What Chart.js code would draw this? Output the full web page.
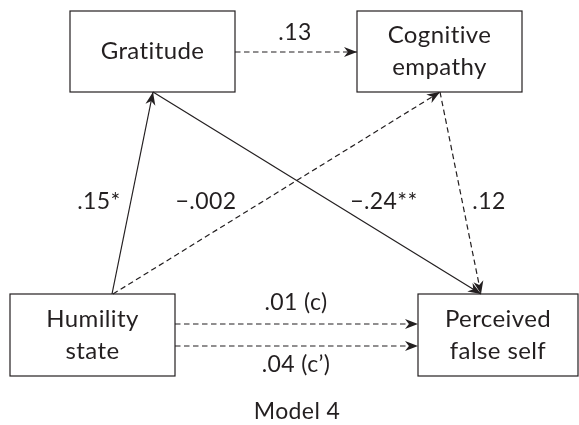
<!DOCTYPE html>
<html lang="en">
<head>
<meta charset="UTF-8">
<title>Model 4</title>
<script src="https://cdn.jsdelivr.net/npm/chart.js"></script>
<style>
  html, body { margin: 0; padding: 0; background: #fff; }
  #wrap { width: 579px; height: 425px; }
</style>
</head>
<body>
<div id="wrap"><canvas id="pathChart" width="579" height="425"></canvas></div>
<script>
// variables in the model
const nodeNames = ['Gratitude', 'Cognitive\nempathy', 'Humility\nstate', 'Perceived\nfalse self'];

// paths: from node, to node, coefficient label
const pathFrom = [2, 2, 0, 1, 0, 2, 2];
const pathTo   = [0, 1, 3, 3, 1, 3, 3];
const pathCoef = ['.15*', '\u2212.002', '\u2212.24**', '.12', '.13', '.01 (c)', '.04 (c\u2019)'];
const modelTitle = 'Model 4';

// layout (chart units = pixels of the 579x425 area)
const boxes = [
  { l: 70, t: 11, r: 235, b: 92 },
  { l: 357, t: 11, r: 522, b: 92 },
  { l: 10, t: 294, r: 175, b: 376 },
  { l: 418, t: 294, r: 578, b: 376 }
];
// anchor points per path [start, end]
const anchors = [
  [[112, 294], [153, 92]],
  [[113, 294], [440, 92]],
  [[153, 92], [481, 294]],
  [[440, 92], [481, 294]],
  [[235, 52], [357, 52]],
  [[175, 324], [418, 324]],
  [[175, 346], [418, 346]]
];
const coefPos = [[99, 202], [206, 202], [384, 202], [489, 202], [295, 33], [296, 303], [296, 365]];
const titlePos = [297, 412];

const ink = '#231f20';
const FONT = '"Lato", "Open Sans", sans-serif';

const datasets = pathCoef.map((c, i) => ({
  label: c,
  data: anchors[i].map(p => ({ x: p[0], y: p[1] })),
  showLine: true,
  borderColor: ink,
  borderWidth: 1.2,
  borderDash: c.includes('*') ? [] : [5.5, 3.5],
  pointRadius: 0,
  fill: false
}));

const diagramPlugin = {
  id: 'diagram',
  afterDatasetsDraw(chart) {
    const ctx = chart.ctx;
    const xs = chart.scales.x, ys = chart.scales.y;
    const px = v => xs.getPixelForValue(v);
    const py = v => ys.getPixelForValue(v);
    ctx.save();

    // arrowheads
    chart.data.datasets.forEach(ds => {
      const a = ds.data[0], b = ds.data[1];
      const x1 = px(a.x), y1 = py(a.y), x2 = px(b.x), y2 = py(b.y);
      const ang = Math.atan2(y2 - y1, x2 - x1);
      const len = 13, half = 5;
      ctx.save();
      ctx.translate(x2, y2);
      ctx.rotate(ang);
      ctx.beginPath();
      ctx.moveTo(0, 0);
      ctx.lineTo(-len, -half);
      ctx.lineTo(-len * 0.7, 0);
      ctx.lineTo(-len, half);
      ctx.closePath();
      ctx.fillStyle = ink;
      ctx.fill();
      ctx.restore();
    });

    // boxes and variable names
    ctx.strokeStyle = ink;
    ctx.lineWidth = 1.2;
    ctx.fillStyle = ink;
    ctx.textAlign = 'center';
    ctx.textBaseline = 'middle';
    ctx.letterSpacing = '0.4px'; // also keeps Lato from using its "ti" ligature
    ctx.font = '24px ' + FONT;
    boxes.forEach((bx, i) => {
      const l = px(bx.l), t = py(bx.t), r = px(bx.r), b = py(bx.b);
      ctx.strokeRect(l, t, r - l, b - t);
      const lines = nodeNames[i].split('\n');
      const cx = (l + r) / 2, cy = (t + b) / 2;
      const lh = 32;
      lines.forEach((ln, k) => {
        ctx.fillText(ln, cx, cy + (k - (lines.length - 1) / 2) * lh);
      });
    });

    // coefficients
    ctx.font = '23px ' + FONT;
    pathCoef.forEach((c, i) => {
      ctx.fillText(c, px(coefPos[i][0]), py(coefPos[i][1]));
    });
    ctx.fillText(modelTitle, px(titlePos[0]), py(titlePos[1]));
    ctx.restore();
  }
};

new Chart(document.getElementById('pathChart'), {
  type: 'scatter',
  data: { datasets },
  options: {
    responsive: false,
    animation: false,
    layout: { padding: 0 },
    plugins: { legend: { display: false }, tooltip: { enabled: false } },
    scales: {
      x: { type: 'linear', min: 0, max: 579, display: false },
      y: { type: 'linear', min: 0, max: 425, reverse: true, display: false }
    }
  },
  plugins: [diagramPlugin]
});
</script>
</body>
</html>
